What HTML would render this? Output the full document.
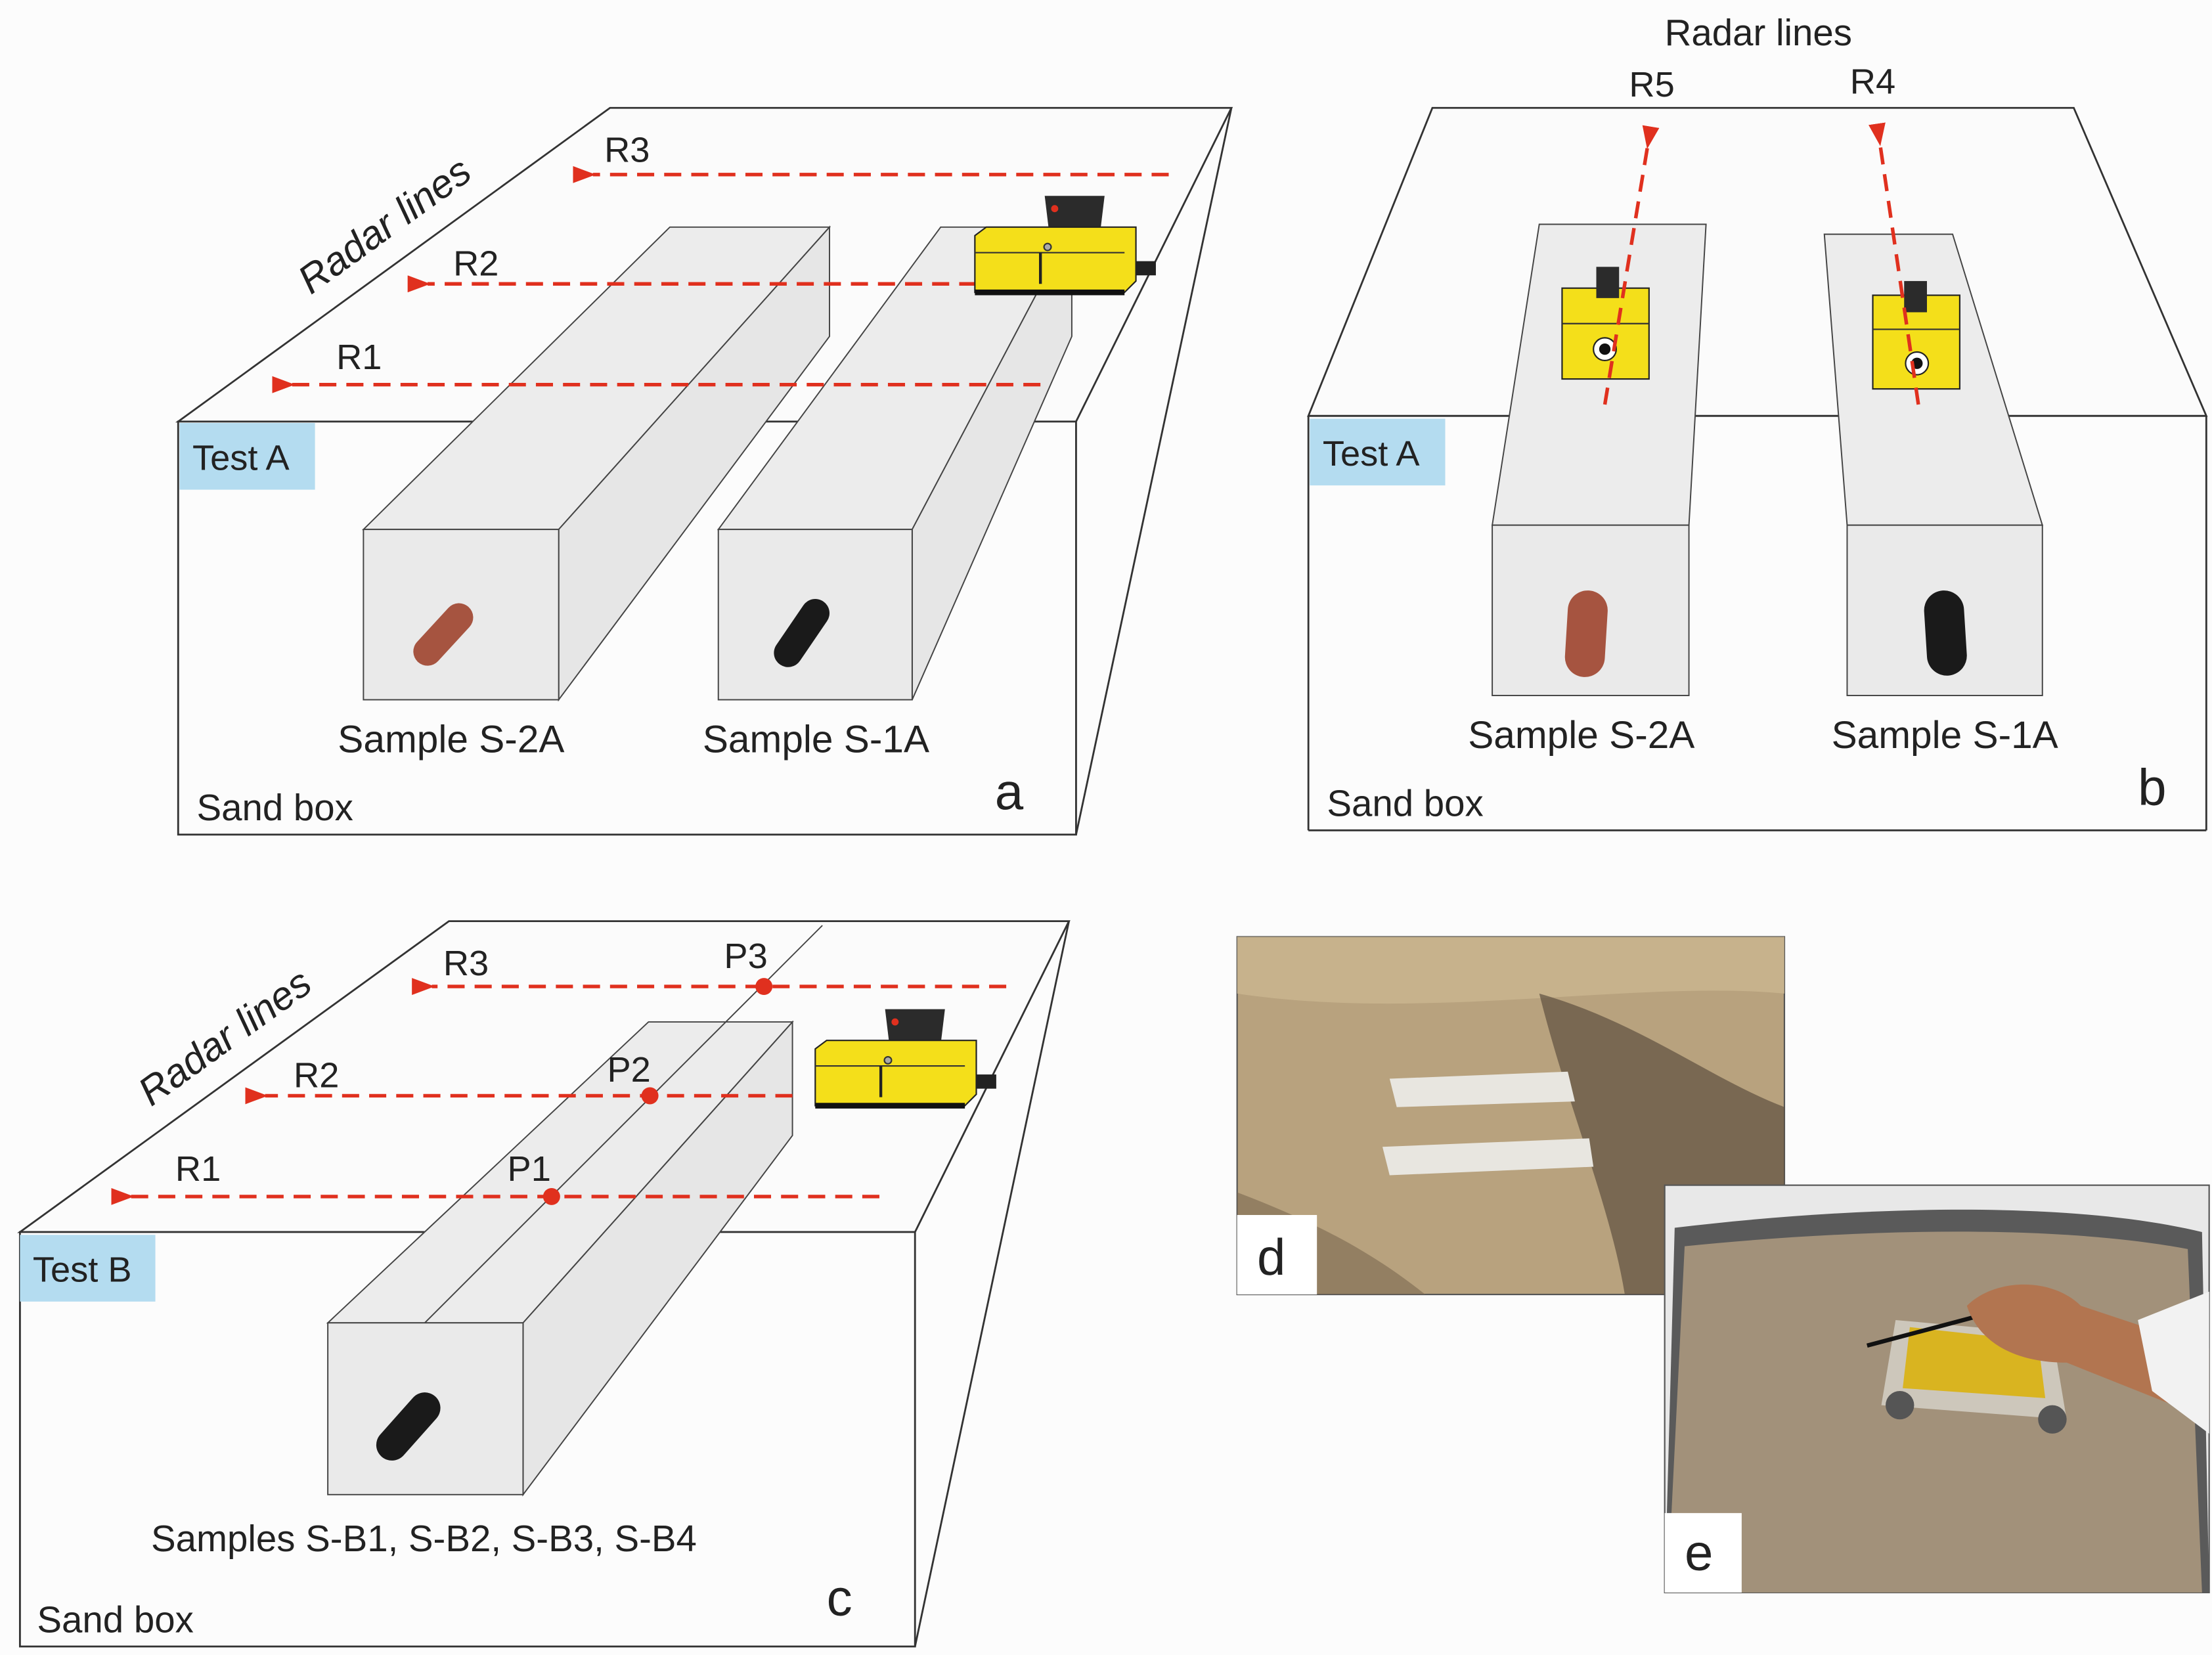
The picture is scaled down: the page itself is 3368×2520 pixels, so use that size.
<!DOCTYPE html>
<html><head><meta charset="utf-8"><style>
html,body{margin:0;padding:0;background:#fcfcfc;}
svg{display:block;}
text{font-family:"Liberation Sans",sans-serif;fill:#222;}
</style></head><body>
<svg width="3368" height="2520" viewBox="0 0 1552 1166" preserveAspectRatio="none" xmlns="http://www.w3.org/2000/svg">
<defs>
<marker id="ah" markerWidth="16" markerHeight="12" refX="2" refY="6" orient="auto" markerUnits="userSpaceOnUse" viewBox="0 0 16 12">
<path d="M16,0 L0,6 L16,12 Z" fill="#e0301e"/></marker>
<g id="dev">
<path d="M49,-28 L91,-28 L88,-3 L52,-3 Z" fill="#2b2b2b"/>
<circle cx="56" cy="-19" r="2.5" fill="#e0301e"/>
<path d="M0,0 L8,-6 L113,-6 L113,32 L105,40 L0,40 Z" fill="#f4df1a" stroke="#222" stroke-width="1"/>
<line x1="0" y1="12" x2="105" y2="12" stroke="#333" stroke-width="1"/>
<rect x="0" y="38" width="105" height="4" fill="#111"/>
<line x1="46" y1="12" x2="46" y2="34" stroke="#222" stroke-width="2"/>
<circle cx="51" cy="8" r="2.5" fill="#aaa" stroke="#333"/>
<rect x="113" y="18" width="14" height="10" fill="#222"/>
</g>
</defs>
<rect width="1552" height="1166" fill="#fcfcfc"/>

<!-- PANEL A -->
<g stroke="#333" stroke-width="1.3" fill="none">
<path d="M125,297 L428,76 L864,76 L755,297 Z" fill="#fbfbfb"/>
<path d="M864,76 L755,588"/>
<rect x="125" y="297" width="630" height="291" fill="#fcfcfc"/>
</g>
<g stroke="#444" stroke-width="0.9">
<path d="M255,373 L470,160 L582,160 L392,373 Z" fill="#ececec"/>
<path d="M392,373 L582,160 L582,237 L392,493 Z" fill="#e6e6e6"/>
<rect x="255" y="373" width="137" height="120" fill="#eaeaea"/>
<path d="M504,373 L660,160 L752,160 L640,373 Z" fill="#ececec"/>
<path d="M640,373 L752,160 L752,237 L640,493 Z" fill="#e6e6e6"/>
<rect x="504" y="373" width="136" height="120" fill="#eaeaea"/>
</g>
<line x1="300" y1="459" x2="322" y2="435" stroke="#a65440" stroke-width="20" stroke-linecap="round"/>
<line x1="553" y1="460" x2="572" y2="432" stroke="#1a1a1a" stroke-width="20" stroke-linecap="round"/>
<g stroke="#e0301e" stroke-width="2.5" stroke-dasharray="12,7" fill="none" marker-end="url(#ah)">
<line x1="820" y1="123" x2="416" y2="123"/>
<line x1="685" y1="200" x2="300" y2="200"/>
<line x1="730" y1="271" x2="205" y2="271"/>
</g>
<use href="#dev" x="684" y="166"/>
<text x="424" y="114" font-size="25">R3</text>
<text x="318" y="194" font-size="25">R2</text>
<text x="236" y="260" font-size="25">R1</text>
<text x="0" y="0" font-size="28" font-style="italic" transform="translate(218,208) rotate(-36)">Radar lines</text>
<rect x="126" y="298" width="95" height="47" fill="#b4dcf0"/>
<text x="135" y="331" font-size="25">Test A</text>
<text x="237" y="530" font-size="27">Sample S-2A</text>
<text x="493" y="530" font-size="27">Sample S-1A</text>
<text x="138" y="578" font-size="26">Sand box</text>
<text x="698" y="570" font-size="36">a</text>

<!-- PANEL B -->
<g stroke="#333" stroke-width="1.3" fill="none">
<path d="M918,293 L1005,76 L1455,76 L1548,293 Z" fill="#fbfbfb"/>
<path d="M918,293 L918,585 M918,585 L1548,585 M1548,293 L1548,585"/>
<line x1="918" y1="293" x2="1548" y2="293"/>
</g>
<g stroke="#444" stroke-width="0.9">
<path d="M1047,370 L1080,158 L1197,158 L1185,370 Z" fill="#ececec"/>
<rect x="1047" y="370" width="138" height="120" fill="#eaeaea"/>
<path d="M1296,370 L1280,165 L1370,165 L1433,370 Z" fill="#ececec"/>
<rect x="1296" y="370" width="137" height="120" fill="#eaeaea"/>
</g>
<line x1="1112" y1="463" x2="1114" y2="430" stroke="#a65440" stroke-width="28" stroke-linecap="round"/>
<line x1="1366" y1="462" x2="1364" y2="430" stroke="#1a1a1a" stroke-width="28" stroke-linecap="round"/>
<g>
<rect x="1096" y="203" width="61" height="64" fill="#f4df1a" stroke="#222"/>
<rect x="1120" y="188" width="16" height="22" fill="#2b2b2b"/>
<line x1="1096" y1="228" x2="1157" y2="228" stroke="#333"/>
<circle cx="1126" cy="246" r="8" fill="#fff" stroke="#222"/><circle cx="1126" cy="246" r="4" fill="#111"/>
<rect x="1314" y="208" width="61" height="66" fill="#f4df1a" stroke="#222"/>
<rect x="1336" y="198" width="16" height="22" fill="#2b2b2b"/>
<line x1="1314" y1="232" x2="1375" y2="232" stroke="#333"/>
<circle cx="1345" cy="256" r="8" fill="#fff" stroke="#222"/><circle cx="1345" cy="256" r="4" fill="#111"/>
</g>
<g stroke="#e0301e" stroke-width="2.5" stroke-dasharray="12,7" fill="none" marker-end="url(#ah)">
<line x1="1126" y1="285" x2="1156" y2="103"/>
<line x1="1346" y1="285" x2="1319" y2="101"/>
</g>
<text x="1168" y="32" font-size="26">Radar lines</text>
<text x="1143" y="68" font-size="25">R5</text>
<text x="1298" y="66" font-size="25">R4</text>
<rect x="919" y="295" width="95" height="47" fill="#b4dcf0"/>
<text x="928" y="328" font-size="25">Test A</text>
<text x="1030" y="527" font-size="27">Sample S-2A</text>
<text x="1285" y="527" font-size="27">Sample S-1A</text>
<text x="931" y="575" font-size="26">Sand box</text>
<text x="1500" y="567" font-size="36">b</text>

<!-- PANEL C -->
<g stroke="#333" stroke-width="1.3" fill="none">
<path d="M14,868 L315,649 L750,649 L642,868 Z" fill="#fbfbfb"/>
<path d="M750,649 L642,1160"/>
<rect x="14" y="868" width="628" height="292" fill="#fcfcfc"/>
</g>
<g stroke="#444" stroke-width="0.9">
<path d="M230,932 L455,720 L556,720 L367,932 Z" fill="#ececec"/>
<path d="M367,932 L556,720 L556,800 L367,1053 Z" fill="#e6e6e6"/>
<rect x="230" y="932" width="137" height="121" fill="#eaeaea"/>
<line x1="298" y1="932" x2="577" y2="652"/>
</g>
<line x1="275" y1="1018" x2="298" y2="992" stroke="#1a1a1a" stroke-width="22" stroke-linecap="round"/>
<g stroke="#e0301e" stroke-width="2.5" stroke-dasharray="12,7" fill="none" marker-end="url(#ah)">
<line x1="706" y1="695" x2="303" y2="695"/>
<line x1="556" y1="772" x2="186" y2="772"/>
<line x1="617" y1="843" x2="92" y2="843"/>
</g>
<g fill="#e0301e"><circle cx="387" cy="843" r="6"/><circle cx="456" cy="772" r="6"/><circle cx="536" cy="695" r="6"/></g>
<use href="#dev" x="572" y="739"/>
<text x="311" y="687" font-size="25">R3</text>
<text x="206" y="766" font-size="25">R2</text>
<text x="123" y="832" font-size="25">R1</text>
<text x="508" y="682" font-size="25">P3</text>
<text x="426" y="762" font-size="25">P2</text>
<text x="356" y="832" font-size="25">P1</text>
<text x="0" y="0" font-size="28" font-style="italic" transform="translate(106,780) rotate(-36)">Radar lines</text>
<rect x="14" y="870" width="95" height="47" fill="#b4dcf0"/>
<text x="23" y="903" font-size="25">Test B</text>
<text x="106" y="1093" font-size="26">Samples S-B1, S-B2, S-B3, S-B4</text>
<text x="26" y="1150" font-size="26">Sand box</text>
<text x="580" y="1138" font-size="36">c</text>

<!-- PHOTO D -->
<rect x="868" y="660" width="384" height="252" fill="#b8a27e" stroke="#555"/>
<path d="M868,660 L1252,660 L1252,700 C1150,690 1000,720 868,700 Z" fill="#cbb690" opacity="0.8"/>
<path d="M1080,700 C1150,720 1200,760 1252,780 L1252,912 L1140,912 C1130,850 1100,780 1080,700 Z" fill="#5e5040" opacity="0.7"/>
<path d="M868,840 C920,860 960,880 1000,912 L868,912 Z" fill="#7a6850" opacity="0.6"/>
<path d="M975,760 L1100,755 L1105,776 L980,780 Z" fill="#e8e6e0"/>
<path d="M970,808 L1115,802 L1118,822 L975,828 Z" fill="#e8e6e0"/>
<rect x="868" y="856" width="56" height="56" fill="#fff"/>
<text x="882" y="898" font-size="36">d</text>

<!-- PHOTO E -->
<rect x="1168" y="835" width="382" height="287" fill="#e8e8e8" stroke="#555"/>
<path d="M1175,865 C1300,850 1450,845 1545,868 L1550,1122 L1168,1122 Z" fill="#5a5a5a"/>
<path d="M1182,878 C1300,866 1440,862 1535,880 L1545,1122 L1170,1122 Z" fill="#a2917a"/>
<path d="M1330,930 L1440,940 L1450,1000 L1320,990 Z" fill="#d8d4cc" opacity="0.8"/>
<path d="M1340,935 L1430,945 L1435,985 L1335,978 Z" fill="#d9b420"/>
<circle cx="1333" cy="990" r="10" fill="#555"/><circle cx="1440" cy="1000" r="10" fill="#555"/>
<line x1="1310" y1="948" x2="1385" y2="928" stroke="#111" stroke-width="3"/>
<path d="M1380,920 C1400,900 1440,900 1460,920 L1550,950 L1550,1000 L1450,960 C1420,960 1390,950 1380,920 Z" fill="#b27550"/>
<path d="M1500,930 L1550,910 L1550,1010 L1510,980 Z" fill="#f2f2f2"/>
<rect x="1168" y="1066" width="54" height="56" fill="#fff"/>
<text x="1182" y="1106" font-size="36">e</text>
</svg>
</body></html>
